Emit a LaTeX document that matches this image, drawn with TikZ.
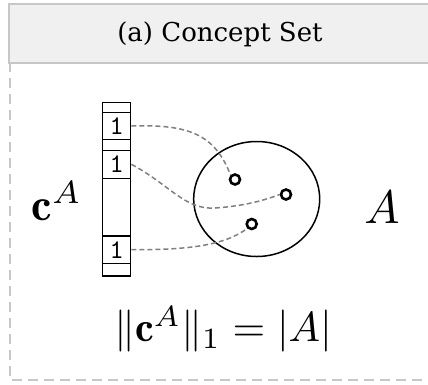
\documentclass[tikz,border=0pt]{standalone}
\usepackage{fontspec}
\newfontfamily\headfont{DejaVu Serif}
\usepackage{amsmath}
\usetikzlibrary{shapes.geometric}
\begin{document}
\begin{tikzpicture}[x=1pt,y=-1pt,
  cell/.style={draw=black, line width=1.4pt, minimum width=28pt, inner sep=0pt, anchor=north west},
  digit/.style={font=\ttfamily, scale=2.7, inner sep=0pt},
  elem/.style={circle, draw=black, line width=2.6pt, minimum size=10pt, inner sep=0pt},
  link/.style={draw=black!50, dashed, line width=1.5pt, dash pattern=on 5pt off 3pt},
  frame/.style={draw=black!22, line width=2pt}]
\useasboundingbox (0,0) rectangle (428,384);
\clip (0,0) rectangle (428,384);
% dashed outer box
\draw[frame, dashed, dash pattern=on 10pt off 6pt] (10,62) rectangle (450,380);
% header
\node[frame, fill=black!6, minimum width=440pt, minimum height=59pt, anchor=north west, inner sep=0pt] (hdr) at (8,3) {};
\node[font=\headfont\fontsize{26}{28}\selectfont] (title) at (220,34) {(a) Concept Set};
% vector
\node[cell, minimum height=10pt] (c0) at (102,102) {};
\node[cell, minimum height=26.6pt] (c1) at (102,112) {};
\node[cell, minimum height=11pt] (c2) at (102,138.6) {};
\node[cell, minimum height=28pt] (c3) at (102,149.6) {};
\node[cell, minimum height=57.6pt] (c4) at (102,177.6) {};
\node[cell, minimum height=27.6pt] (c5) at (102,235.2) {};
\node[cell, minimum height=12.4pt] (c6) at (102,262.8) {};
\node[digit] (d1) at (c1.center) {1};
\node[digit] (d3) at (c3.center) {1};
\node[digit] (d5) at (c5.center) {1};
% set
\node[ellipse, draw=black, line width=1.5pt, minimum width=126pt, minimum height=115pt, inner sep=0pt] (set) at (256.7,199) {};
\node[elem] (e1) at (235,179.5) {};
\node[elem] (e2) at (286,194.5) {};
\node[elem] (e3) at (251.7,224) {};
% links
\draw[link] (c1.east) .. controls (190,124) and (215,135) .. (e1.north west);
\draw[link] (c3.east) .. controls (170,185) and (185,210) .. (215,208) .. controls (245,206) and (265,200) .. (e2.west);
\draw[link] (c5.east) .. controls (190,250) and (225,245) .. (e3.south west);
% labels
\node[scale=4.6, inner sep=0pt, anchor=base] (cA) at (57,220) {$\mathbf{c}^{A}$};
\node[scale=4.7, inner sep=0pt, anchor=base] (A) at (382,223) {$A$};
\node[scale=4.2, inner sep=0pt, anchor=base] (eq) at (223,341.7) {$\|\mathbf{c}^{A}\|_{1}=|A|$};
\end{tikzpicture}
\end{document}
